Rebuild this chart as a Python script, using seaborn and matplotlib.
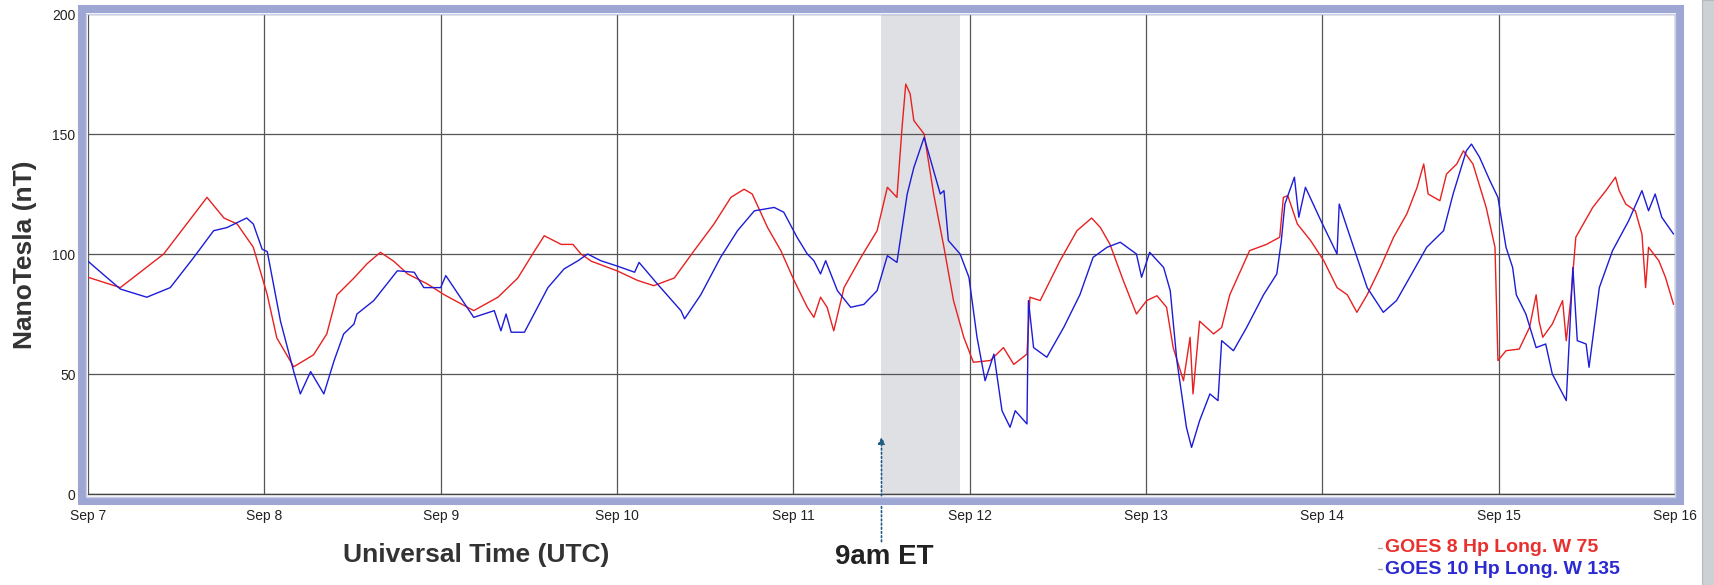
import numpy as np
import pandas as pd
import seaborn as sns
import matplotlib.pyplot as plt
from matplotlib.patches import Rectangle
from matplotlib.lines import Line2D
from matplotlib.ticker import MultipleLocator

sns.set_style("white")
plt.rcParams["font.family"] = ["Liberation Sans", "DejaVu Sans"]

# hours since Sep 7 00:00 UTC, values in nT
goes8_hours = [0, 4.4, 10.3, 16.2, 18.5, 20.3, 22.5, 24.4, 25.7, 28, 30.7, 32.5, 33.9, 36.2, 38,
               39.8, 41.6, 43.5, 46.2, 48.5, 52.5, 55.8, 58.5, 60.8, 62.1, 64.4, 66, 67.1, 68.5,
               72, 74.8, 77, 79.8, 82.5, 85.2, 87.5, 89.3, 90.4, 92.5, 94.3, 96.1, 97.9, 98.8,
               99.7, 100.6, 101.5, 102.9, 105.2, 107.4, 108.8, 110.1, 110.8, 111.3, 111.9, 112.4,
               113.8, 115.1, 116.5, 117.8, 119.2, 120.5, 122.8, 124.6, 126, 127.8, 128.2, 129.6,
               132.3, 134.6, 136.6, 137.8, 139.1, 140.9, 142.7, 144.1, 145.5, 146.8, 147.7, 149.1,
               150, 150.4, 151.3, 153.2, 154.3, 155.4, 158.1, 160.4, 162.2, 162.7, 163.3, 164.6,
               166.4, 168.2, 170, 171.4, 172.7, 174.1, 175.9, 177.7, 179.5, 180.9, 181.8, 182.4,
               184, 184.9, 186.3, 187.2, 188.5, 190.3, 191.5, 191.9, 193, 194.8, 196.2, 197.1,
               197.5, 198, 199.3, 200.7, 201.2, 201.8, 202.5, 204.8, 206.6, 207.9, 208.4, 209.3,
               210.6, 211.5, 212, 212.4, 213.8, 214.7, 215.8]
goes8_nt = [90.3, 86, 100, 123.6, 115, 112.5, 102.8, 83, 65, 53, 58, 66.7, 83, 90, 96,
            100.7, 97, 91.7, 87.5, 83, 76.4, 82, 90, 101.4, 107.6, 104, 104, 100, 97,
            93, 89, 86.8, 90, 101.4, 112.5, 123.6, 127, 125, 111, 101.4, 89, 77.8, 73.6,
            82, 77.8, 68, 86, 98.6, 109.7, 127.8, 123.6, 152.8, 170.8, 166.7, 155.6,
            150, 125, 102.8, 80.6, 65.3, 54.9, 55.6, 61, 54, 58.3, 82, 80.6,
            97.2, 109.7, 115, 111, 104, 89, 75, 80.6, 82.6, 77.8, 61, 47.2,
            65.3, 41.7, 72, 66.7, 69.4, 83, 101.4, 104, 107, 123.6, 124.3, 112.5,
            105.6, 97.2, 86, 83, 75.7, 83, 94.4, 107, 116.7, 127.8, 137.5, 125,
            122.2, 133.3, 137.5, 143, 137.5, 119.4, 102.8, 55.6, 59.7, 60.4, 69.4, 83,
            72, 65.3, 70.8, 80.6, 63.9, 80.6, 107, 119.4, 126.4, 132, 126.4, 120.8,
            118, 108.3, 86, 102.8, 97.2, 90.3, 79]

goes10_hours = [0, 1.2, 4.4, 8, 11.2, 14.4, 17.1, 18.9, 21.6, 22.5, 23.7, 24.4, 26.2, 28, 28.9,
                30.3, 32.1, 33.5, 34.8, 36.2, 36.6, 38.9, 42.1, 44.4, 45.7, 48, 48.7, 52.5, 55.3,
                56.2, 56.9, 57.6, 59.4, 62.6, 64.8, 66.7, 68, 69.8, 72, 74.4, 75, 77.5, 80.7,
                81.2, 83.4, 86.1, 88.4, 90.7, 93.4, 94.7, 96.5, 97.9, 98.8, 99.7, 100.4, 102,
                103.8, 105.6, 107.4, 108.8, 110.1, 111.5, 112.4, 113.8, 115.1, 116, 116.5, 117.1,
                118.7, 119.9, 121, 122.1, 123.3, 124.4, 125.5, 126.2, 127.8, 128, 128.7, 130.5,
                132.8, 135, 136.8, 138.7, 140.5, 142.7, 143.4, 144.5, 146.4, 147.3, 148.2, 149.5,
                150.2, 151.3, 152.7, 153.8, 154.3, 155.9, 157.7, 160, 161.8, 162.4, 162.9, 164.2,
                164.8, 165.7, 167.8, 170, 170.3, 171.8, 174.1, 176.3, 178.1, 180.4, 182.2, 184.5,
                185.8, 187.6, 188.3, 189.4, 190.8, 191.9, 193, 193.9, 194.4, 195.7, 197.1, 198.4,
                199.3, 201.2, 202.1, 202.7, 203.9, 204.3, 205.7, 207.5, 209.7, 211.5, 212.4, 213.3,
                214.2, 215.8]
goes10_nt = [97, 93.8, 85.4, 82, 86, 98.6, 109.7, 111, 115, 112.5, 102, 101, 72, 51, 41.7,
             51, 41.7, 55.6, 66.7, 70.8, 75, 80.6, 93, 92.4, 86, 86, 91, 73.6, 76.4,
             68, 75, 67.4, 67.4, 86, 93.8, 97.2, 100, 97.2, 95, 92.4, 96.5, 87.5, 76.4,
             73, 83, 98.6, 109.7, 118, 119.4, 117.4, 107, 100, 97.2, 91.7, 97.2, 84.7,
             77.8, 79, 84.7, 99.3, 96.5, 125, 136, 148.6, 134.7, 125, 126.4, 105.6,
             100, 90.3, 65.3, 47.2, 58.3, 34.7, 27.8, 34.7, 29.2, 80.6, 61, 57,
             69.4, 83, 98.6, 102.8, 104.9, 100, 90.3, 100.7, 94.4, 84.7, 55.6, 27.8,
             19.4, 30.6, 41.7, 38.9, 63.9, 59.7, 69.4, 83, 91.7, 105, 120.8, 132,
             115.3, 127.8, 113.9, 100, 120.8, 107, 86, 75.7, 80.6, 93, 102.8, 109.7,
             125, 143, 145.8, 140.3, 130.6, 123.6, 102.8, 94.4, 83, 75, 61, 62.5,
             50, 38.9, 94.4, 63.9, 62.5, 52.8, 86, 101.4, 113.9, 126.4, 118, 125,
             115.3, 108.3]

day_labels = ["Sep 7", "Sep 8", "Sep 9", "Sep 10", "Sep 11", "Sep 12", "Sep 13",
              "Sep 14", "Sep 15", "Sep 16"]
y_ticks = [0, 50, 100, 150, 200]
shade_start, shade_end = 108, 118.7   # grey band, hours
arrow_hour = 108

df = pd.concat([
    pd.DataFrame({"hour": goes8_hours, "nT": goes8_nt, "sat": "GOES 8"}),
    pd.DataFrame({"hour": goes10_hours, "nT": goes10_nt, "sat": "GOES 10"}),
])

W, H = 1715, 585
fig = plt.figure(figsize=(W / 100, H / 100), dpi=100, facecolor="w")
ax = fig.add_axes([88 / W, 1 - 494 / H, 1587 / W, 480 / H])

ax.axvspan(shade_start, shade_end, color="#dfe0e3", zorder=0, lw=0)
sns.lineplot(data=df, x="hour", y="nT", hue="sat", estimator=None, sort=False,
             palette={"GOES 8": "#e82020", "GOES 10": "#1c1cd8"},
             linewidth=1.0, legend=False, ax=ax, zorder=3)

ax.set_xlim(0, 216)
ax.set_ylim(0, 200)
ax.set_xticks(np.arange(0, 217, 24))
ax.set_xticklabels(day_labels)
ax.set_yticks(y_ticks)
ax.xaxis.set_minor_locator(MultipleLocator(3))
ax.grid(True, which="major", color="#555555", lw=0.9, zorder=1)
ax.tick_params(axis="both", which="major", length=0, labelsize=10, colors="#222222")
ax.tick_params(axis="x", which="major", pad=11)
ax.tick_params(axis="y", which="major", pad=9)
ax.tick_params(axis="x", which="minor", direction="in", length=3, width=0.8, color="#444444")
ax.set_xlabel("")
ax.set_ylabel("")
for s in ["top", "right", "left"]:
    ax.spines[s].set_visible(False)
ax.spines["bottom"].set_color("#444444")
ax.spines["bottom"].set_linewidth(1)

# dotted arrow marking 9am ET
ax.annotate("", xy=(arrow_hour, 25), xytext=(arrow_hour, -21), annotation_clip=False,
            arrowprops=dict(arrowstyle="-|>", color="#1f5a82", lw=1.2, ls=(0, (1, 1.5)),
                            mutation_scale=10))

# lavender frame round the plot
fig.patches.append(Rectangle((82 / W, 1 - 501 / H), 1598 / W, 492 / H, transform=fig.transFigure,
                             fill=False, edgecolor="#9ea6d3", lw=5.8, zorder=5))
fig.patches.append(Rectangle((86.5 / W, 1 - 496.5 / H), 1589 / W, 483 / H, transform=fig.transFigure,
                             fill=False, edgecolor="#c9cde9", lw=1.0, zorder=6))
# grey strip at right edge
fig.patches.append(Rectangle((1702 / W, 0), 13 / W, 1, transform=fig.transFigure,
                             facecolor="#cdd0d4", edgecolor="#b5b8bd", lw=0.8, zorder=5))

fig.text(25 / W, 1 - 255 / H, "NanoTesla (nT)", rotation=90, ha="center", va="center",
         fontsize=19, weight="bold", color="#333333")
fig.text(476 / W, 1 - 555 / H, "Universal Time (UTC)", ha="center", va="center",
         fontsize=19, weight="bold", color="#333333")
fig.text(884 / W, 1 - 557 / H, "9am ET", ha="center", va="center",
         fontsize=20, weight="bold", color="#222222")

fig.text(1385 / W, 1 - 548 / H, "GOES 8 Hp Long. W 75", ha="left", va="center",
         fontsize=14, weight="bold", color="#e8312f")
fig.text(1385 / W, 1 - 569 / H, "GOES 10 Hp Long. W 135", ha="left", va="center",
         fontsize=14, weight="bold", color="#2a2ad0")
for yy in [548, 569]:
    fig.lines.append(Line2D([1378 / W, 1382 / W], [1 - yy / H, 1 - yy / H],
                            transform=fig.transFigure, color="#aaaaaa", lw=1))

fig.savefig("out.png", dpi=100)
